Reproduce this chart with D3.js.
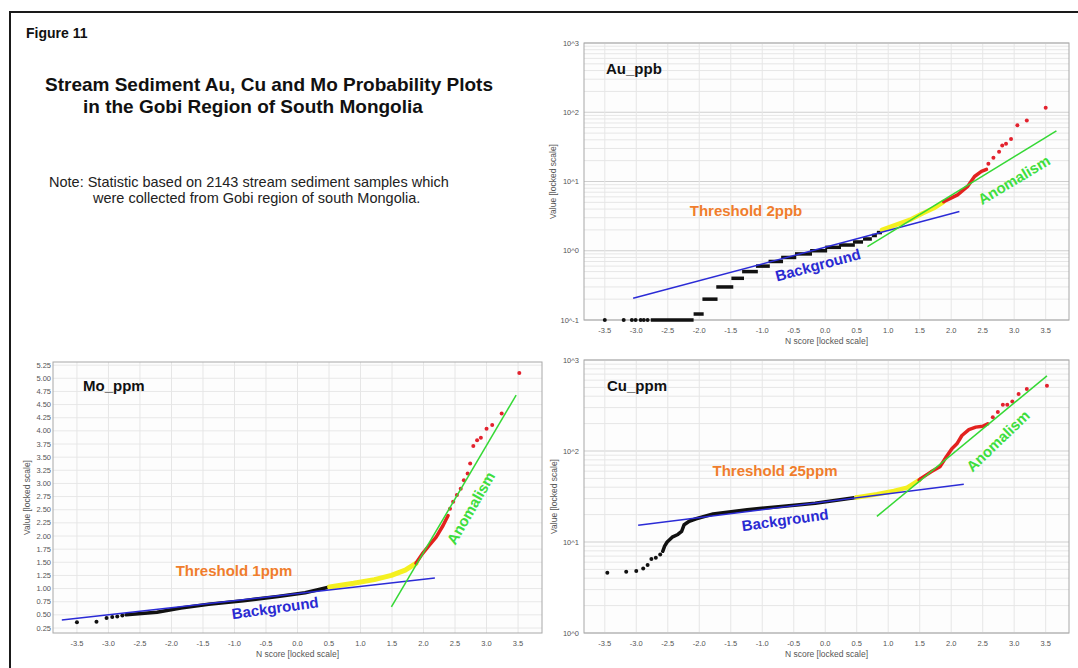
<!DOCTYPE html>
<html><head><meta charset="utf-8">
<script src="https://cdn.jsdelivr.net/npm/d3@7"></script>
<style>body{margin:0;background:#fff}svg{display:block}text{font-family:"Liberation Sans",Arial,sans-serif}</style>
</head><body>
<svg id="c" width="1078" height="668"></svg>
<script>
// ---------------- data ----------------
const nscoreTicks = [-3.5,-3,-2.5,-2,-1.5,-1,-0.5,0,0.5,1,1.5,2,2.5,3,3.5];
const auLogTicks = [0.1,1,10,100,1000];
const cuLogTicks = [1,10,100,1000];
const moTicks = [0.25,0.5,0.75,1,1.25,1.5,1.75,2,2.25,2.5,2.75,3,3.25,3.5,3.75,4,4.25,4.5,4.75,5,5.25];

// Au_ppb  [nscore, value]
const auBlackDots = [[-3.5,0.1],[-3.2,0.1],[-3.07,0.1],[-3.01,0.1],[-2.93,0.1],[-2.88,0.1],[-2.82,0.1]];
// stepped levels [nscore start, nscore end, value]
const auBlackSteps = [[-2.77,-2.09,0.1],[-2.09,-1.93,0.122],[-1.95,-1.71,0.2],[-1.73,-1.46,0.3],[-1.49,-1.29,0.4],
  [-1.32,-1.07,0.5],[-1.10,-0.88,0.6],[-0.90,-0.67,0.7],[-0.70,-0.46,0.8],[-0.48,-0.21,0.9],[-0.24,0.03,1.0],
  [0.0,0.25,1.12],[0.22,0.47,1.21],[0.44,0.60,1.34],[0.60,0.74,1.48],[0.74,0.82,1.66],[0.82,0.90,1.83]];
const auYellow = [[0.90,2.0],[1.12,2.36],[1.34,2.79],[1.55,3.48],[1.72,4.1],[1.88,5.1]];
const auRedCurve = [[1.88,5.1],[2.10,6.4],[2.26,8.5],[2.37,11.8],[2.48,14],[2.56,15]];
const auRedDots = [[2.59,18],[2.67,22],[2.76,27],[2.81,33],[2.87,35],[2.95,41],[3.05,65],[3.20,76],[3.50,116]];
const auBackground = [[-3.05,0.206],[2.13,3.68]];
const auAnomaly = [[0.67,1.15],[3.67,54]];

// Mo_ppm
const moBlackDots = [[-3.5,0.36],[-3.19,0.37],[-3.03,0.44],[-2.94,0.46],[-2.86,0.47],[-2.78,0.49]];
const moBlackCurve = [[-2.72,0.50],[-2.23,0.55],[-1.85,0.63],[-1.41,0.70],[-0.86,0.77],[-0.31,0.85],[0.12,0.92],[0.51,1.03]];
const moYellow = [[0.51,1.03],[0.89,1.10],[1.22,1.17],[1.49,1.25],[1.71,1.35],[1.88,1.48]];
const moRedCurve = [[1.88,1.48],[1.98,1.66],[2.09,1.82],[2.20,1.98],[2.31,2.2],[2.39,2.39]];
const moRedDots = [[2.42,2.52],[2.47,2.65],[2.53,2.78],[2.59,2.90],[2.64,3.06],[2.70,3.19],[2.74,3.38],[2.79,3.71],
  [2.85,3.82],[2.91,3.87],[3.00,4.04],[3.09,4.11],[3.24,4.33],[3.52,5.10]];
const moBackground = [[-3.74,0.40],[2.18,1.20]];
const moAnomaly = [[1.49,0.65],[3.47,4.68]];

// Cu_ppm
const cuBlackDots = [[-3.46,4.6],[-3.16,4.7],[-3.0,4.8],[-2.89,5.1],[-2.82,5.6],[-2.76,6.5],[-2.69,6.7],[-2.62,7.3]];
const cuBlackCurve = [[-2.58,7.9],[-2.55,9.0],[-2.51,10],[-2.43,11.3],[-2.34,12.1],[-2.28,13.1],[-2.24,15.5],[-2.16,16.9],
  [-2.05,18],[-1.78,20.3],[-1.24,22.6],[-0.70,24.6],[-0.16,26.7],[0.49,30.8]];
const cuYellow = [[0.49,30.8],[0.82,33.5],[1.09,36.4],[1.30,39.6],[1.49,47.9]];
const cuRedCurve = [[1.49,47.9],[1.52,50],[1.68,59],[1.82,67],[1.92,86],[2.01,106],[2.09,120],[2.17,148],[2.28,172],
  [2.39,183],[2.50,187],[2.58,199]];
const cuRedDots = [[2.66,235],[2.74,268],[2.82,323],[2.89,323],[2.97,349],[3.07,422],[3.20,480],[3.52,520]];
const cuBackground = [[-2.97,15.3],[2.20,43]];
const cuAnomaly = [[0.82,19.1],[3.52,670]];

// ---------------- drawing ----------------
const svg = d3.select('#c');

svg.append('rect').attr('x',10).attr('y',12).attr('width',1200).attr('height',900)
  .attr('fill','none').attr('stroke','#1a1a1a').attr('stroke-width',2);

svg.append('text').attr('x',26).attr('y',38).attr('font-size',14).attr('font-weight','bold').attr('fill','#111').text('Figure 11');
svg.append('text').attr('x',45).attr('y',91).attr('font-size',19).attr('font-weight','bold').attr('fill','#111')
  .text('Stream Sediment Au, Cu and Mo Probability Plots');
svg.append('text').attr('x',83).attr('y',113).attr('font-size',19).attr('font-weight','bold').attr('fill','#111')
  .text('in the Gobi Region of South Mongolia');
svg.append('text').attr('x',49).attr('y',187).attr('font-size',14.5).attr('fill','#222')
  .text('Note: Statistic based on 2143 stream sediment samples which');
svg.append('text').attr('x',93).attr('y',203).attr('font-size',14.5).attr('fill','#222')
  .text('were collected from Gobi region of south Mongolia.');

function fmtN(d){ return d.toFixed(1); }
function fmtLog(d){ return '10^' + Math.round(Math.log10(d)); }

function drawPanel(p){
  const g = svg.append('g');
  const [xl,xr] = p.x.range();
  const [yb,yt] = p.y.range();
  g.append('rect').attr('x',xl).attr('y',yt).attr('width',xr-xl).attr('height',yb-yt).attr('fill','#fdfdfd');
  // horizontal grid
  if (p.log){
    const all = p.y.ticks();
    g.selectAll('line.hg').data(all).join('line')
      .attr('x1',xl).attr('x2',xr).attr('y1',d=>p.y(d)).attr('y2',d=>p.y(d))
      .attr('stroke',d=>Math.abs(Math.log10(d)-Math.round(Math.log10(d)))<1e-9 ? '#cfcfcf' : '#e6e6e6')
      .attr('stroke-width',1);
  } else {
    g.selectAll('line.hg').data(p.yTicks).join('line')
      .attr('x1',xl).attr('x2',xr).attr('y1',d=>p.y(d)).attr('y2',d=>p.y(d))
      .attr('stroke','#e8e8e8').attr('stroke-width',1);
  }
  // vertical grid
  g.selectAll('line.vg').data(nscoreTicks).join('line')
    .attr('y1',yt).attr('y2',yb).attr('x1',d=>p.x(d)).attr('x2',d=>p.x(d))
    .attr('stroke','#e6e6e6').attr('stroke-width',1);
  // border
  g.append('rect').attr('x',xl).attr('y',yt).attr('width',xr-xl).attr('height',yb-yt)
    .attr('fill','none').attr('stroke','#a8a8a8').attr('stroke-width',1);
  // x tick labels
  g.selectAll('text.xt').data(nscoreTicks).join('text')
    .attr('x',d=>p.x(d)).attr('y',yb+13).attr('text-anchor','middle')
    .attr('font-size',7.5).attr('fill','#555').text(fmtN);
  // y tick labels
  g.selectAll('text.yt').data(p.yTicks).join('text')
    .attr('x',xl-p.labelGap).attr('y',d=>p.y(d)+2.5).attr('text-anchor','end')
    .attr('font-size',7.5).attr('fill','#555').text(p.log ? fmtLog : d=>d.toFixed(2));
  // axis titles
  g.append('text').attr('x',(xl+xr)/2).attr('y',yb+24).attr('text-anchor','middle')
    .attr('font-size',8.5).attr('fill','#555').text('N score [locked scale]');
  g.append('text').attr('transform',`translate(${p.yTitleX},${(yb+yt)/2}) rotate(-90)`)
    .attr('text-anchor','middle').attr('font-size',8.5).attr('fill','#555').text('Value [locked scale]');
  // panel name
  g.append('text').attr('x',p.nameX).attr('y',p.nameY).attr('font-size',15).attr('font-weight','bold')
    .attr('fill','#111').text(p.name);

  const line = d3.line().x(d=>p.x(d[0])).y(d=>p.y(d[1]));
  // black samples
  if (p.steps){
    g.selectAll('line.st').data(p.steps).join('line')
      .attr('x1',d=>p.x(d[0])).attr('x2',d=>p.x(d[1])).attr('y1',d=>p.y(d[2])).attr('y2',d=>p.y(d[2]))
      .attr('stroke','#111').attr('stroke-width',3.5);
  }
  if (p.blackCurve){
    g.append('path').attr('d',line(p.blackCurve)).attr('fill','none').attr('stroke','#111')
      .attr('stroke-width',3.5).attr('stroke-linecap','round').attr('stroke-linejoin','round');
  }
  g.selectAll('circle.bd').data(p.blackDots).join('circle')
    .attr('cx',d=>p.x(d[0])).attr('cy',d=>p.y(d[1])).attr('r',2).attr('fill','#111');
  // yellow
  g.append('path').attr('d',line(p.yellow)).attr('fill','none').attr('stroke','#f4f020')
    .attr('stroke-width',p.yellowW).attr('stroke-linecap','round').attr('stroke-linejoin','round');
  // red
  g.append('path').attr('d',line(p.redCurve)).attr('fill','none').attr('stroke','#e3221f')
    .attr('stroke-width',3.5).attr('stroke-linecap','round').attr('stroke-linejoin','round');
  g.selectAll('circle.rd').data(p.redDots).join('circle')
    .attr('cx',d=>p.x(d[0])).attr('cy',d=>p.y(d[1])).attr('r',2).attr('fill','#e3222e');
  // fitted lines
  g.append('path').attr('d',line(p.background)).attr('fill','none').attr('stroke','#2b2bd6').attr('stroke-width',1.5);
  g.append('path').attr('d',line(p.anomaly)).attr('fill','none').attr('stroke','#35d835').attr('stroke-width',1.5);
  // annotations
  const ann = (txt,cx,cy,ang,col)=> g.append('text')
    .attr('transform',`translate(${cx},${cy}) rotate(${ang})`).attr('text-anchor','middle').attr('dy','0.35em')
    .attr('font-size',15).attr('font-weight','bold').attr('fill',col).text(txt);
  ann(p.threshold, p.thr[0], p.thr[1], 0, '#f07d2c');
  ann('Background', p.bg[0], p.bg[1], p.bg[2], '#2a2ad2');
  ann('Anomalism', p.an[0], p.an[1], p.an[2], '#3ede3e');
}

// Au
drawPanel({
  name:'Au_ppb', nameX:606, nameY:74, log:true,
  x:d3.scaleLinear([-3.83,3.87],[584,1069]), y:d3.scaleLog([0.1,1000],[320,43]),
  yTicks:auLogTicks, labelGap:5, yTitleX:556,
  steps:auBlackSteps, blackDots:auBlackDots, yellow:auYellow, yellowW:4.5,
  redCurve:auRedCurve, redDots:auRedDots, background:auBackground, anomaly:auAnomaly,
  threshold:'Threshold 2ppb', thr:[746,211], bg:[818,265,-15], an:[1014,180,-31]
});
// Mo
drawPanel({
  name:'Mo_ppm', nameX:83, nameY:391, log:false,
  x:d3.scaleLinear([-3.88,3.88],[53,542]), y:d3.scaleLinear([0.155,5.31],[633,362]),
  yTicks:moTicks, labelGap:2, yTitleX:30,
  blackCurve:moBlackCurve, blackDots:moBlackDots, yellow:moYellow, yellowW:5,
  redCurve:moRedCurve, redDots:moRedDots, background:moBackground, anomaly:moAnomaly,
  threshold:'Threshold 1ppm', thr:[234,571], bg:[275,608,-8], an:[471,508,-60]
});
// Cu
drawPanel({
  name:'Cu_ppm', nameX:607, nameY:391, log:true,
  x:d3.scaleLinear([-3.83,3.87],[584,1069]), y:d3.scaleLog([1,1000],[633,360]),
  yTicks:cuLogTicks, labelGap:5, yTitleX:557,
  blackCurve:cuBlackCurve, blackDots:cuBlackDots, yellow:cuYellow, yellowW:4.5,
  redCurve:cuRedCurve, redDots:cuRedDots, background:cuBackground, anomaly:cuAnomaly,
  threshold:'Threshold 25ppm', thr:[775,471], bg:[785,520,-8], an:[998,441,-44]
});
</script>
</body></html>
